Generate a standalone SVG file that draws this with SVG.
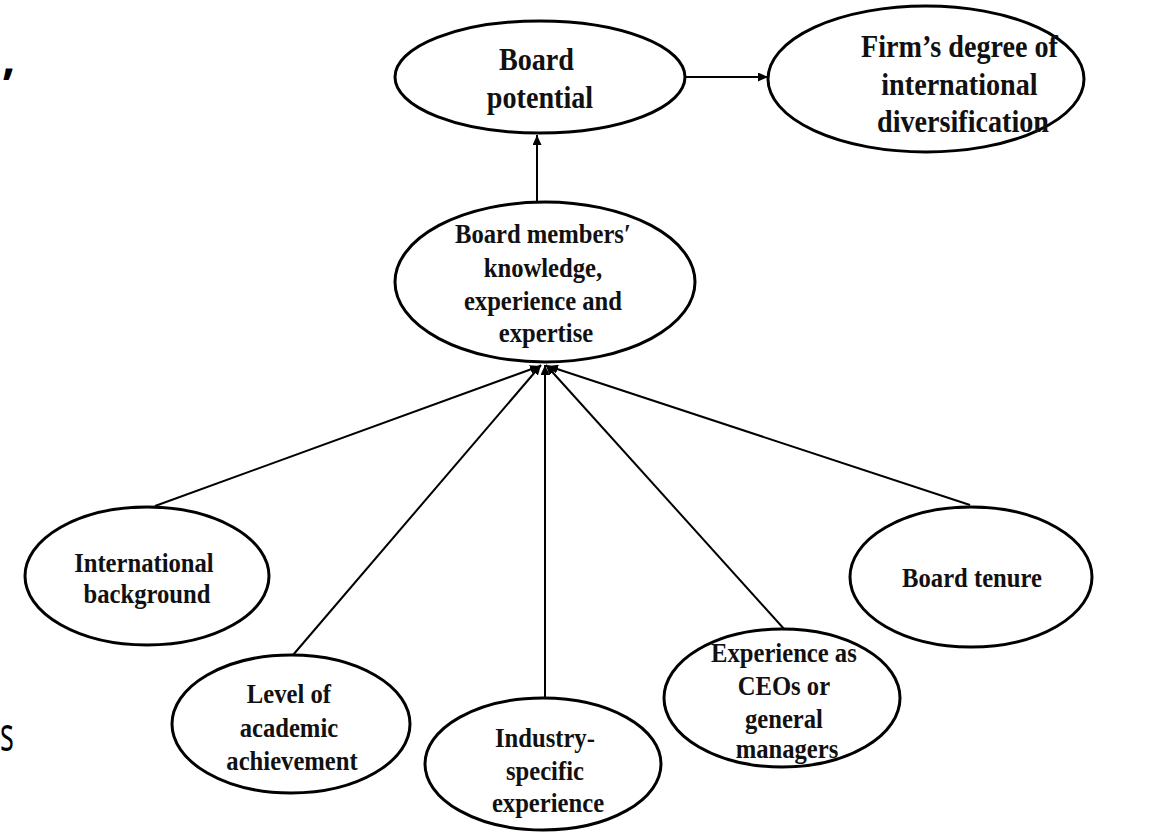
<svg xmlns="http://www.w3.org/2000/svg" width="1161" height="833" viewBox="0 0 1161 833">
  <style>
    .node { fill: #fff; stroke: #000; stroke-width: 3; }
    .lbl { font-family: "Liberation Serif", "Times New Roman", serif; font-weight: bold; fill: #111; text-anchor: middle; }
    .big { font-size: 32px; }
    .small { font-size: 28px; }
    .edge { stroke: #000; stroke-width: 2; fill: none; marker-end: url(#arrow); }
    .stray { font-family: "Open Sans", "Liberation Sans", sans-serif; font-size: 47px; fill: #000; }
  </style>
  <defs>
    <marker id="arrow" markerUnits="userSpaceOnUse" markerWidth="11" markerHeight="9" refX="10" refY="4.5" orient="auto">
      <path d="M0,0 L10,4.5 L0,9 Z" fill="#000"/>
    </marker>
  </defs>
  <rect width="1161" height="833" fill="#fff"/>

  <!-- fragments of surrounding page text along the left margin -->
  <text class="stray" font-weight="bold" x="2" y="74">,</text>
  <text class="stray" transform="translate(0 0) scale(0.62 1)" x="0" y="751">s</text>

  <!-- connectors -->
  <g id="connectors">
    <line class="edge" x1="685" y1="77" x2="768" y2="77"/>
    <line class="edge" x1="537" y1="202" x2="537" y2="135"/>
    <line class="edge" x1="155" y1="506" x2="540" y2="366"/>
    <line class="edge" x1="293" y1="655" x2="541" y2="365"/>
    <line class="edge" x1="545" y1="698" x2="545" y2="365"/>
    <line class="edge" x1="785" y1="630" x2="546" y2="365"/>
    <line class="edge" x1="970" y1="505" x2="548" y2="366"/>
  </g>

  <g id="board-potential">
    <ellipse class="node" cx="540" cy="77" rx="145" ry="56"/>
    <text class="lbl big" transform="translate(540 0) scale(0.88 1)">
      <tspan x="0" y="70">Board</tspan>
      <tspan x="0" y="108">potential</tspan>
    </text>
  </g>

  <g id="international-diversification">
    <ellipse class="node" cx="926" cy="79" rx="158" ry="73"/>
    <text class="lbl big" transform="translate(963 0) scale(0.88 1)">
      <tspan x="0" y="57">Firm’s degree of</tspan>
      <tspan x="0" y="95">international</tspan>
      <tspan x="0" y="132">diversification</tspan>
    </text>
  </g>

  <g id="board-knowledge">
    <ellipse class="node" cx="545" cy="282" rx="150" ry="80"/>
    <text class="lbl small" transform="translate(546 0) scale(0.88 1)">
      <tspan x="0" y="243">Board members′</tspan>
      <tspan x="0" y="277">knowledge,</tspan>
      <tspan x="0" y="310">experience and</tspan>
      <tspan x="0" y="342">expertise</tspan>
    </text>
  </g>

  <g id="international-background">
    <ellipse class="node" cx="147" cy="576" rx="122" ry="69"/>
    <text class="lbl small" transform="translate(147 0) scale(0.88 1)">
      <tspan x="0" y="572">International</tspan>
      <tspan x="0" y="603">background</tspan>
    </text>
  </g>

  <g id="academic-achievement">
    <ellipse class="node" cx="291" cy="724" rx="119" ry="69"/>
    <text class="lbl small" transform="translate(292 0) scale(0.88 1)">
      <tspan x="0" y="703">Level of</tspan>
      <tspan x="0" y="737">academic</tspan>
      <tspan x="0" y="770">achievement</tspan>
    </text>
  </g>

  <g id="industry-experience">
    <ellipse class="node" cx="543" cy="764" rx="118" ry="66"/>
    <text class="lbl small" transform="translate(548 0) scale(0.88 1)">
      <tspan x="0" y="747">Industry-</tspan>
      <tspan x="0" y="780">specific</tspan>
      <tspan x="0" y="812">experience</tspan>
    </text>
  </g>

  <g id="ceo-experience">
    <ellipse class="node" cx="782" cy="698" rx="118" ry="69"/>
    <text class="lbl small" transform="translate(787 0) scale(0.88 1)">
      <tspan x="0" y="662">Experience as</tspan>
      <tspan x="0" y="695">CEOs or</tspan>
      <tspan x="0" y="728">general</tspan>
      <tspan x="0" y="758">managers</tspan>
    </text>
  </g>

  <g id="board-tenure">
    <ellipse class="node" cx="971" cy="577" rx="121" ry="70"/>
    <text class="lbl small" transform="translate(972 0) scale(0.88 1)">
      <tspan x="0" y="587">Board tenure</tspan>
    </text>
  </g>
</svg>
